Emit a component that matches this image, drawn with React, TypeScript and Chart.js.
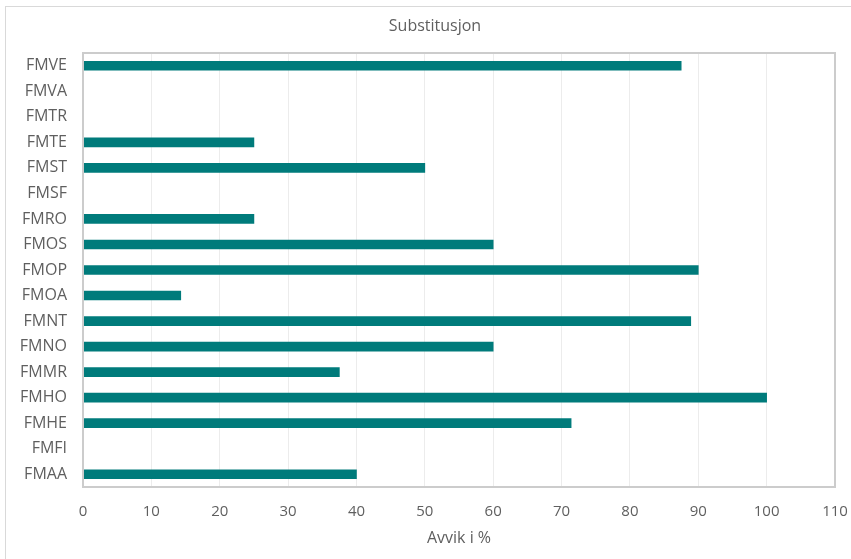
import React, { useEffect, useRef } from "react";
import { Chart, registerables } from "chart.js";

Chart.register(...registerables);

const categories = [
  "FMVE", "FMVA", "FMTR", "FMTE", "FMST", "FMSF", "FMRO", "FMOS", "FMOP",
  "FMOA", "FMNT", "FMNO", "FMMR", "FMHO", "FMHE", "FMFI", "FMAA",
];
const values = [
  87.5, 0, 0, 25, 50, 0, 25, 60, 90,
  14.3, 88.9, 60, 37.5, 100, 71.4, 0, 40,
];
const chartTitle = "Substitusjon";
const xAxisTitle = "Avvik i %";

const FONT = "'Open Sans', Lato, sans-serif";
const TEXT = "#5f5f5f";

const frame = {
  id: "frame",
  afterDraw(chart: any) {
    const { ctx, chartArea } = chart;
    ctx.save();
    ctx.strokeStyle = "#cccccc";
    ctx.lineWidth = 2;
    ctx.strokeRect(chartArea.left, chartArea.top, chartArea.right - chartArea.left, chartArea.bottom - chartArea.top);
    ctx.restore();
  },
};

export default function App() {
  const ref = useRef<HTMLCanvasElement | null>(null);
  useEffect(() => {
    if (!ref.current) return;
    const chart = new Chart(ref.current, {
      type: "bar",
      data: {
        labels: categories,
        datasets: [
          {
            data: values,
            backgroundColor: "#007b7b",
            barThickness: 9,
          },
        ],
      },
      plugins: [frame],
      options: {
        indexAxis: "y",
        animation: false,
        responsive: false,
        layout: { padding: { left: 19, right: 0, top: 0, bottom: 0 } },
        plugins: {
          legend: { display: false },
          tooltip: { enabled: false },
          title: {
            display: true,
            text: chartTitle,
            color: TEXT,
            font: { family: FONT, size: 16, weight: "normal" },
            padding: { top: 17, bottom: 16.8 },
          },
        },
        scales: {
          x: {
            min: 0,
            max: 110,
            ticks: { stepSize: 10, color: TEXT, font: { family: FONT, size: 15 }, padding: 16 },
            grid: { color: "#ececec", drawTicks: false },
            border: { display: true, color: "#cccccc" },
            title: {
              display: true,
              text: xAxisTitle,
              color: TEXT,
              font: { family: FONT, size: 16 },
              padding: { top: 0, bottom: 11 },
            },
            afterFit: (s: any) => { s.height = 72; s.paddingRight = 16; s.paddingLeft = 0; },
          },
          y: {
            ticks: { color: TEXT, font: { family: FONT, size: 16 }, padding: 16, autoSkip: false },
            grid: { display: false, drawTicks: false },
            border: { display: true, color: "#cccccc" },
            afterFit: (s: any) => { s.width = 64; s.paddingTop = 0; s.paddingBottom = 0; },
          },
        },
      },
    });
    return () => chart.destroy();
  }, []);
  return (
    <div style={{ position: "absolute", left: 0, top: 0, width: 851, height: 559, overflow: "hidden", background: "#fff" }}>
      <div style={{ position: "absolute", left: 5, top: 6, width: 900, height: 600, border: "1px solid #d9d9d9" }} />
      <canvas ref={ref} width={851} height={559} style={{ position: "absolute", left: 0, top: 0 }} />
    </div>
  );
}
